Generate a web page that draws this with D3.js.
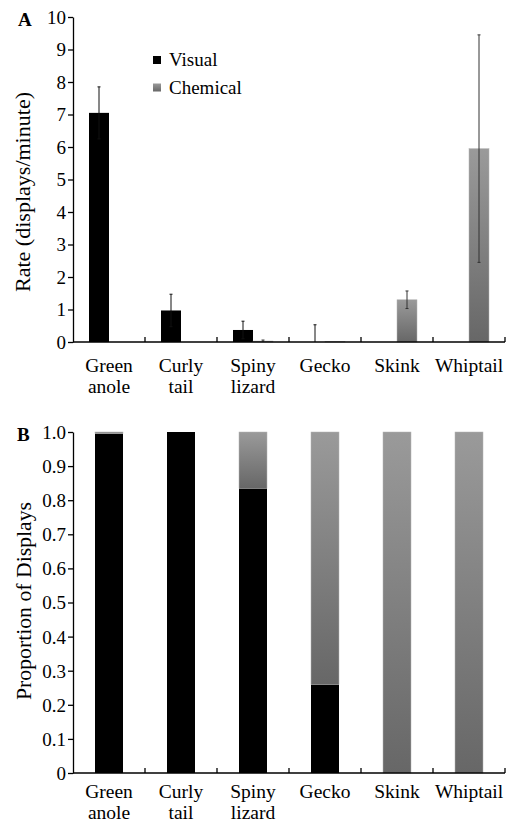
<!DOCTYPE html>
<html>
<head>
<meta charset="utf-8">
<script src="https://cdn.jsdelivr.net/npm/d3@7"></script>
<style>
body{margin:0;background:#fff;}
</style>
</head>
<body>
<div id="chart"></div>
<script>
// data
var species=["Green anole","Curly tail","Spiny lizard","Gecko","Skink","Whiptail"];
var labelLines=[["Green","anole"],["Curly","tail"],["Spiny","lizard"],["Gecko"],["Skink"],["Whiptail"]];
var rateVisual=[7.05,0.97,0.37,0,0,0];
var rateVisualErr=[0.8,0.5,0.27,0.53,0,0];
var rateChemical=[0,0,0.03,0.02,1.3,5.95];
var rateChemicalErr=[0,0,0.03,0,0.27,3.5];
var propVisual=[0.995,1,0.835,0.26,0,0];
var propChemical=[0.005,0,0.165,0.74,1,1];
var rateTicks=[0,1,2,3,4,5,6,7,8,9,10];
var propTicks=[0,0.1,0.2,0.3,0.4,0.5,0.6,0.7,0.8,0.9,1.0];

var W=509,H=827,fs=19;
var FONT="'Liberation Serif'";
var svg=d3.select("#chart").append("svg").attr("width",W).attr("height",H);

var defs=svg.append("defs");
var grad=defs.append("linearGradient").attr("id","chem").attr("x1",0).attr("y1",0).attr("x2",0).attr("y2",1);
grad.append("stop").attr("offset","0%").attr("stop-color","#9a9a9a");
grad.append("stop").attr("offset","100%").attr("stop-color","#676767");

var x=d3.scaleBand().domain(species).range([73,505]).padding(0);
var sub=d3.scaleBand().domain(["Visual","Chemical"]).range([16,56]);

//x axis: line + inward ticks at boundaries + labels
function xAxis(g,y0,labY){
	g.append("line").attr("x1",x.range()[0]).attr("x2",x.range()[1]).attr("y1",y0).attr("y2",y0).attr("stroke","#000").attr("stroke-width",1.3);
	var bounds=species.slice(1).map(function(d){return x(d)}).concat([x.range()[1]]);
	g.selectAll(".xt").data(bounds).enter().append("line")
		.attr("x1",function(d){return d}).attr("x2",function(d){return d})
		.attr("y1",y0).attr("y2",y0-5).attr("stroke","#000").attr("stroke-width",1.3);
	var t=g.selectAll(".xl").data(species).enter().append("text")
		.attr("text-anchor","middle").attr("font-size",19.5).style("font-family",FONT)
		.attr("transform",function(d){return "translate("+(x(d)+x.bandwidth()/2)+","+labY+")"});
	t.each(function(d,i){
		var el=d3.select(this);
		labelLines[i].forEach(function(s,j){
			el.append("tspan").attr("x",0).attr("y",j*21).text(s);
		});
	});
}

function yAxis(g,y,ticks,fmt){
	var ax=d3.axisLeft(y).tickValues(ticks).tickSize(5).tickSizeOuter(0).tickFormat(fmt);
	var a=g.append("g").attr("transform","translate(73,0)").call(ax);
	a.select(".domain").attr("stroke-width",1.3);
	a.selectAll(".tick line").attr("stroke-width",1.3);
	a.selectAll(".tick text").attr("font-size",fs).style("font-family",FONT).attr("fill","#000").attr("x",-7).attr("dy","0.34em");
}

// ---------- panel A ----------
var yA=d3.scaleLinear().domain([0,10]).range([342,17]);
var gA=svg.append("g");
yAxis(gA,yA,rateTicks,d3.format("d"));

gA.selectAll(".bv").data(species).enter().append("rect")
	.attr("x",function(d){return x(d)+sub("Visual")})
	.attr("width",sub.bandwidth())
	.attr("y",function(d,i){return yA(rateVisual[i])})
	.attr("height",function(d,i){return yA(0)-yA(rateVisual[i])})
	.attr("fill","#000");
gA.selectAll(".bc").data(species).enter().append("rect")
	.attr("x",function(d){return x(d)+sub("Chemical")})
	.attr("width",sub.bandwidth())
	.attr("y",function(d,i){return yA(rateChemical[i])})
	.attr("height",function(d,i){return yA(0)-yA(rateChemical[i])})
	.attr("fill","url(#chem)").attr("stroke","#b5b5b5").attr("stroke-width",0.5);

function errBars(vals,errs,key,col){
	var cx=function(d){return x(d)+sub(key)+sub.bandwidth()/2};
	species.forEach(function(d,i){
		if(!errs[i])return;
		var top=yA(vals[i]+errs[i]),bot=yA(Math.max(0,vals[i]-errs[i]));
		gA.append("line").attr("x1",cx(d)).attr("x2",cx(d)).attr("y1",top).attr("y2",bot).attr("stroke",col).attr("stroke-width",1);
		gA.append("line").attr("x1",cx(d)-1.5).attr("x2",cx(d)+1.5).attr("y1",top).attr("y2",top).attr("stroke",col).attr("stroke-width",1);
		if(vals[i]-errs[i]>0)
			gA.append("line").attr("x1",cx(d)-1.5).attr("x2",cx(d)+1.5).attr("y1",bot).attr("y2",bot).attr("stroke",col).attr("stroke-width",1);
	});
}
errBars(rateVisual,rateVisualErr,"Visual","#111");
errBars(rateChemical,rateChemicalErr,"Chemical","#333");

xAxis(gA,yA(0),372);

gA.append("text").attr("x",18).attr("y",26).attr("font-size",fs).attr("font-weight","bold").style("font-family",FONT).text("A");
gA.append("text").attr("transform","translate(30,192) rotate(-90)").attr("text-anchor","middle").style("font-family",FONT)
	.attr("font-size",20).attr("textLength",200).attr("lengthAdjust","spacingAndGlyphs").text("Rate (displays/minute)");

// legend
var leg=gA.append("g");
var legItems=[["Visual","#000"],["Chemical","url(#chem)"]];
leg.selectAll("rect").data(legItems).enter().append("rect")
	.attr("x",153).attr("y",function(d,i){return 56+i*27.5}).attr("width",8).attr("height",8)
	.attr("fill",function(d){return d[1]});
leg.selectAll("text").data(legItems).enter().append("text")
	.attr("x",169).attr("y",function(d,i){return 66+i*27.5}).attr("font-size",fs).style("font-family",FONT).text(function(d){return d[0]});

// ---------- panel B ----------
var yB=d3.scaleLinear().domain([0,1]).range([773,432]);
var gB=svg.append("g");
yAxis(gB,yB,propTicks,function(d){return d===0?"0":d3.format(".1f")(d)});
var bw=28;
gB.selectAll(".pv").data(species).enter().append("rect")
	.attr("x",function(d){return x(d)+x.bandwidth()/2-bw/2}).attr("width",bw)
	.attr("y",function(d,i){return yB(propVisual[i])})
	.attr("height",function(d,i){return yB(0)-yB(propVisual[i])})
	.attr("fill","#000");
gB.selectAll(".pc").data(species).enter().append("rect")
	.attr("x",function(d){return x(d)+x.bandwidth()/2-bw/2}).attr("width",bw)
	.attr("y",function(d,i){return yB(propVisual[i]+propChemical[i])})
	.attr("height",function(d,i){return yB(0)-yB(propChemical[i])})
	.attr("fill","url(#chem)").attr("stroke","#b5b5b5").attr("stroke-width",0.5);

xAxis(gB,yB(0),798);

gB.append("text").attr("x",17).attr("y",441).attr("font-size",fs).attr("font-weight","bold").style("font-family",FONT).text("B");
gB.append("text").attr("transform","translate(31,601) rotate(-90)").attr("text-anchor","middle").style("font-family",FONT)
	.attr("font-size",20).attr("textLength",198).attr("lengthAdjust","spacingAndGlyphs").text("Proportion of Displays");
</script>
</body>
</html>
